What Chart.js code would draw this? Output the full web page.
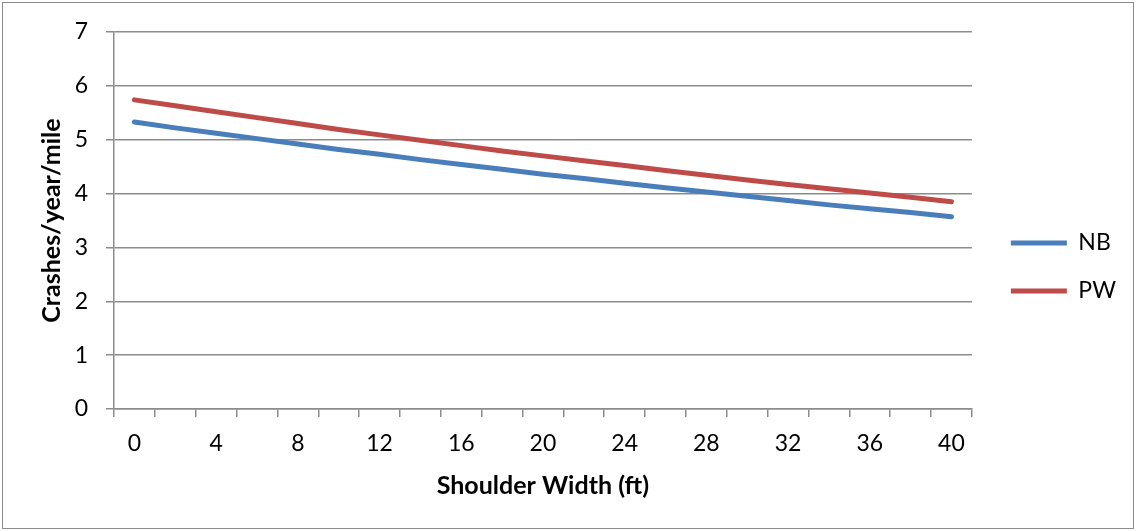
<!DOCTYPE html>
<html>
<head>
<meta charset="utf-8">
<title>Crashes vs shoulder width</title>
<script src="https://cdn.jsdelivr.net/npm/chart.js@4.4.0/dist/chart.umd.min.js"></script>
<style>
  body { margin: 0; background: #fff; }
  #wrap { position: relative; width: 1136px; height: 531px; }
  #frame {
    position: absolute; left: 2px; top: 2px;
    width: 1130px; height: 525px;
    border: 1px solid #8c8c8c;
  }
  #chart { position: absolute; left: 0; top: 0; }
</style>
</head>
<body>
<div id="wrap">
  <div id="frame"></div>
  <canvas id="chart" width="1136" height="531"></canvas>
</div>
<script>
// Data
const shoulderWidths = [0, 2, 4, 6, 8, 10, 12, 14, 16, 18, 20, 22, 24, 26, 28, 30, 32, 34, 36, 38, 40];
const nbCrashes = [5.33, 5.22, 5.12, 5.02, 4.92, 4.82, 4.73, 4.63, 4.54, 4.45, 4.36, 4.28, 4.19, 4.11, 4.03, 3.95, 3.87, 3.79, 3.72, 3.65, 3.57];
const pwCrashes = [5.74, 5.63, 5.52, 5.41, 5.30, 5.19, 5.09, 4.99, 4.89, 4.79, 4.70, 4.61, 4.52, 4.43, 4.34, 4.25, 4.17, 4.09, 4.01, 3.93, 3.85];
const seriesNames = ["NB", "PW"];
const yMin = 0;
const yMax = 7;

// Styles
const gridGray = "#8c8c8c";
const tickFont = { family: "Lato", size: 23 };
const titleFont = { family: "Lato", size: 25, weight: "bold" };

const ctx = document.getElementById("chart").getContext("2d");

const chart = new Chart(ctx, {
    type: "line",
    data: {
        labels: shoulderWidths,
        datasets: [{
            label: seriesNames[0],
            data: nbCrashes,
            borderColor: "#4a7ebb",
            backgroundColor: "#4a7ebb",
            borderWidth: 5,
            borderCapStyle: "round",
            borderJoinStyle: "round",
            pointRadius: 0,
            tension: 0
        }, {
            label: seriesNames[1],
            data: pwCrashes,
            borderColor: "#be4b48",
            backgroundColor: "#be4b48",
            borderWidth: 5,
            borderCapStyle: "round",
            borderJoinStyle: "round",
            pointRadius: 0,
            tension: 0
        }]
    },
    options: {
        responsive: false,
        animation: false,
        devicePixelRatio: 1,
        layout: { padding: { top: 32, right: 10, bottom: 29, left: 0 } },
        plugins: {
            tooltip: { enabled: false },
            legend: {
                position: "right",
                align: "center",
                labels: {
                    usePointStyle: true,
                    pointStyle: "line",
                    pointStyleWidth: 56,
                    padding: 25,
                    color: "#000",
                    font: tickFont
                }
            }
        },
        scales: {
            x: {
                type: "category",
                offset: true,
                grid: {
                    offset: true,
                    drawOnChartArea: false,
                    color: gridGray,
                    lineWidth: 1.5,
                    tickLength: 8
                },
                border: { color: gridGray, width: 1.5 },
                ticks: {
                    autoSkip: false,
                    maxRotation: 0,
                    padding: 13,
                    color: "#000",
                    font: tickFont,
                    callback: function (value, index) {
                        // only every other category gets a label
                        return index % 2 === 0 ? this.getLabelForValue(value) : "";
                    }
                },
                title: {
                    display: true,
                    text: "Shoulder Width (ft)",
                    color: "#000",
                    font: titleFont,
                    padding: { top: 0, bottom: 1 }
                },
                afterFit: (scale) => { scale.height = 93; }
            },
            y: {
                min: yMin,
                max: yMax,
                ticks: {
                    stepSize: 1,
                    padding: 18,
                    color: "#000",
                    font: tickFont
                },
                grid: { color: gridGray, lineWidth: 1.5, tickLength: 8 },
                border: { color: gridGray, width: 1.5 },
                title: {
                    display: true,
                    text: "Crashes/year/mile",
                    color: "#000",
                    font: titleFont,
                    padding: { top: 37, bottom: 0 }
                },
                afterFit: (scale) => { scale.width = 114; }
            },
            // empty spacer between plot area and legend
            gap: {
                type: "linear",
                position: "right",
                grid: { display: false },
                ticks: { display: false },
                border: { display: false },
                afterFit: (scale) => { scale.width = 14; }
            }
        }
    }
});
</script>
</body>
</html>
